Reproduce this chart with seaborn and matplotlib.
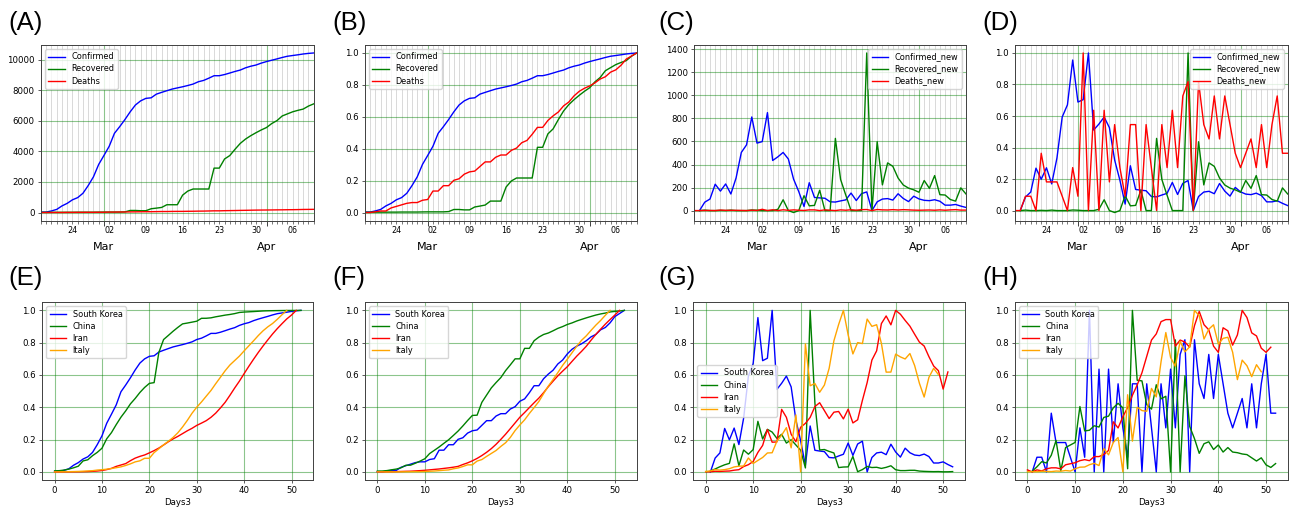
import numpy as np
import pandas as pd
import matplotlib
matplotlib.use("Agg")
import matplotlib.pyplot as plt
import matplotlib.dates as mdates
from matplotlib.ticker import FuncFormatter, MultipleLocator
import seaborn as sns

# ---------------------------------------------------------------- data
# South Korea cumulative counts, one value per day
korea_start, korea_end = "2020-02-18", "2020-04-10"
korea_confirmed = [31, 31, 104, 204, 433, 602, 833, 977, 1261, 1766, 2337, 3150,
                   3736, 4335, 5186, 5621, 6088, 6593, 7041, 7314, 7478, 7513,
                   7755, 7869, 7979, 8086, 8162, 8236, 8320, 8413, 8565, 8652,
                   8799, 8961, 8961, 9037, 9137, 9241, 9332, 9478, 9583, 9661, 9786,
                   9887, 9976, 10062, 10156, 10237, 10284, 10331, 10384, 10423, 10450]
korea_recovered = [12, 12, 16, 16, 16, 18, 18, 22, 22, 22, 22, 27,
                   30, 30, 30, 30, 41, 135, 135, 118, 118, 247,
                   288, 333, 510, 510, 510, 1137, 1407, 1540, 1540, 1540,
                   1540, 2909, 2909, 3507, 3730, 4144, 4528, 4811, 5033, 5228, 5408,
                   5567, 5828, 6021, 6325, 6463, 6598, 6694, 6776, 6973, 7117]
korea_deaths = [0, 0, 1, 2, 2, 6, 8, 10, 12, 13, 13, 16,
                17, 28, 28, 35, 35, 42, 44, 50, 53, 54,
                60, 66, 66, 72, 75, 75, 81, 84, 91, 94,
                102, 111, 111, 120, 126, 131, 139, 144, 152, 158, 162,
                165, 169, 174, 177, 183, 186, 192, 200, 204, 208]

# Cumulative counts per country, indexed by days since its own day 0 (Days3)
china_confirmed = [548, 643, 920, 1406, 2075, 2877, 5509, 6087, 8141, 9802,
                   11891, 16630, 19716, 23707, 27440, 30587, 34110, 36814, 39829, 42354,
                   44386, 44759, 59895, 66358, 68413, 70513, 72434, 74211, 74619, 75077,
                   75550, 77001, 77022, 77241, 77754, 78166, 78600, 78928, 79356, 79932,
                   80136, 80261, 80386, 80537, 80690, 80770, 80823, 80860, 80887, 80921,
                   80932, 80945, 80977]
china_deaths = [17, 18, 26, 42, 56, 82, 131, 133, 171, 213,
                259, 361, 425, 490, 562, 632, 717, 804, 904, 1011,
                1111, 1116, 1368, 1511, 1653, 1758, 1856, 1992, 2106, 2224,
                2224, 2430, 2430, 2580, 2651, 2703, 2732, 2776, 2823, 2858,
                2900, 2931, 2969, 3000, 3030, 3058, 3085, 3107, 3124, 3146,
                3157, 3164, 3177]
iran_confirmed = [2, 5, 18, 28, 43, 61, 95, 139, 245, 388,
                  593, 978, 1501, 2336, 2922, 3513, 4747, 5823, 6566, 7161,
                  8042, 9000, 10075, 11364, 12729, 13938, 14991, 16169, 17361, 18407,
                  19644, 20610, 21638, 23049, 24811, 27017, 29406, 32332, 35408, 38309,
                  41495, 44605, 47593, 50468, 53183, 55743, 58226, 60500, 62589, 64586,
                  66220, 68192]
iran_deaths = [2, 2, 4, 5, 8, 12, 16, 19, 26, 34,
               43, 54, 66, 77, 92, 107, 124, 145, 194, 237,
               291, 354, 429, 514, 611, 724, 853, 988, 1135, 1284,
               1433, 1556, 1685, 1812, 1934, 2077, 2234, 2378, 2517, 2640,
               2757, 2898, 3036, 3160, 3294, 3452, 3603, 3739, 3872, 3993,
               4110, 4232]
italy_confirmed = [20, 62, 155, 229, 322, 453, 655, 888, 1128, 1694,
                   2036, 2502, 3089, 3858, 4636, 5883, 7375, 9172, 10149, 12462,
                   12462, 17660, 21157, 24747, 27980, 31506, 35713, 41035, 47021, 53578,
                   59138, 63927, 69176, 74386, 80589, 86498, 92472, 97689, 101739, 105792,
                   110574, 115242, 119827, 124632, 128948, 132547, 135586, 139422, 143626, 147577]
italy_deaths = [1, 2, 3, 7, 10, 12, 17, 21, 29, 34,
                52, 79, 107, 148, 197, 233, 366, 463, 631, 827,
                827, 1266, 1441, 1809, 2158, 2503, 2978, 3405, 4032, 4825,
                5476, 6077, 6820, 7503, 8215, 9134, 10023, 10779, 11591, 12428,
                13155, 13915, 14681, 15362, 15887, 16523, 17127, 17669, 18279, 18849]

korea_series = ["Confirmed", "Recovered", "Deaths"]
korea_new_series = ["Confirmed_new", "Recovered_new", "Deaths_new"]
series_colors = ["blue", "green", "red"]
country_names = ["South Korea", "China", "Iran", "Italy"]
country_colors = ["blue", "green", "red", "orange"]
# Iran and Italy daily counts start from zero before day 0
country_diff_from_zero = [False, False, True, True]

# ---------------------------------------------------------------- style
W, H = 1290, 508
TICK_FS = 6.2
LEGEND_FS = 5.9
GRID_KW = dict(color="green", alpha=0.45, linewidth=0.8)

fig = plt.figure(figsize=(W / 100, H / 100), dpi=100)


def add_axes(l, t, r, b):
    return fig.add_axes([l / W, 1 - b / H, (r - l) / W, (b - t) / H])


def style_frame(ax):
    for sp in ax.spines.values():
        sp.set_linewidth(0.7)
        sp.set_color("0.25")
    ax.tick_params(axis="y", labelsize=TICK_FS, length=2.5, width=0.6, pad=2,
                   color="0.25")


def monday_label(x, pos=None):
    d = mdates.num2date(x)
    return d.strftime("%d") if d.weekday() == 0 else ""


def style_date_axis(ax, dates):
    ax.set_xlim(dates[0], dates[-1])
    ax.xaxis.set_major_locator(mdates.MonthLocator())
    ax.xaxis.set_major_formatter(mdates.DateFormatter("%b"))
    ax.xaxis.set_minor_locator(mdates.DayLocator())
    ax.xaxis.set_minor_formatter(FuncFormatter(monday_label))
    ax.tick_params(axis="x", which="minor", labelsize=5.8, length=2.0, width=0.5,
                   pad=2.0, color="0.25")
    ax.tick_params(axis="x", which="major", labelsize=8, length=3.5, width=0.7,
                   pad=12, color="0.25")
    ax.grid(True, which="minor", axis="x", color="0.55", alpha=0.45, linewidth=0.5)
    ax.grid(True, which="major", axis="both", **GRID_KW)
    ax.set_axisbelow(True)
    ax.set_xlabel("")
    ax.set_ylabel("")


def finish_legend(ax, loc):
    ax.legend(loc=loc, fontsize=LEGEND_FS, framealpha=0.8, edgecolor="0.8",
              borderpad=0.4, labelspacing=0.38, handlelength=2.0, handletextpad=0.8)


dates = pd.date_range(korea_start, korea_end, freq="D")
korea_cum = [np.asarray(korea_confirmed, float),
             np.asarray(korea_recovered, float),
             np.asarray(korea_deaths, float)]

# (A) cumulative counts
ax = add_axes(41, 45, 313.7, 220.5)
for name, vals, c in zip(korea_series, korea_cum, series_colors):
    sns.lineplot(x=dates, y=vals, color=c, label=name, linewidth=1.0, ax=ax)
style_date_axis(ax, dates)
ax.yaxis.set_major_locator(MultipleLocator(2000))
style_frame(ax)
finish_legend(ax, "upper left")

# (B) cumulative counts scaled by their maximum
ax = add_axes(365, 45, 636.7, 220.5)
for name, vals, c in zip(korea_series, korea_cum, series_colors):
    sns.lineplot(x=dates, y=vals / vals.max(), color=c, label=name, linewidth=1.0, ax=ax)
style_date_axis(ax, dates)
ax.yaxis.set_major_locator(MultipleLocator(0.2))
style_frame(ax)
finish_legend(ax, "upper left")

# daily increments; deaths start from zero the day before
korea_new = [np.diff(korea_cum[0]), np.diff(korea_cum[1]), np.diff(korea_cum[2], prepend=0)]
korea_new_x = [dates[1:], dates[1:], dates]

# (C) daily new counts
ax = add_axes(694.3, 45, 966, 220.5)
for name, x, vals, c in zip(korea_new_series, korea_new_x, korea_new, series_colors):
    sns.lineplot(x=x, y=vals, color=c, label=name, linewidth=1.0, ax=ax)
style_date_axis(ax, dates)
ax.yaxis.set_major_locator(MultipleLocator(200))
style_frame(ax)
finish_legend(ax, "upper right")

# (D) daily new counts scaled by their maximum
ax = add_axes(1015, 45, 1287.7, 220.5)
for name, x, vals, c in zip(korea_new_series, korea_new_x, korea_new, series_colors):
    sns.lineplot(x=x, y=vals / vals.max(), color=c, label=name, linewidth=1.0, ax=ax)
style_date_axis(ax, dates)
ax.yaxis.set_major_locator(MultipleLocator(0.2))
style_frame(ax)
finish_legend(ax, "upper right")

# ---------------------------------------------------------------- bottom row
confirmed_by_country = [korea_confirmed, china_confirmed, iran_confirmed, italy_confirmed]
deaths_by_country = [korea_deaths, china_deaths, iran_deaths, italy_deaths]


def style_days_axis(ax):
    ax.xaxis.set_major_locator(MultipleLocator(10))
    ax.yaxis.set_major_locator(MultipleLocator(0.2))
    ax.grid(True, which="major", **GRID_KW)
    ax.set_axisbelow(True)
    ax.tick_params(axis="x", labelsize=TICK_FS, length=2.5, width=0.6, pad=2,
                   color="0.25")
    ax.set_xlabel("Days3", fontsize=6.2, labelpad=2)
    ax.set_ylabel("")
    style_frame(ax)


def plot_cumulative(ax, table):
    for name, vals, c in zip(country_names, table, country_colors):
        v = np.asarray(vals, float)
        sns.lineplot(x=np.arange(len(v)), y=v / v.max(), color=c, label=name,
                     linewidth=1.0, ax=ax)


def plot_daily(ax, table):
    for name, vals, c, from_zero in zip(country_names, table, country_colors,
                                        country_diff_from_zero):
        v = np.asarray(vals, float)
        if from_zero:
            d = np.diff(v, prepend=0)
            x = np.arange(len(v))
        else:
            d = np.diff(v)
            x = np.arange(1, len(v))
        sns.lineplot(x=x, y=d / d.max(), color=c, label=name, linewidth=1.0, ax=ax)


# (E) cumulative confirmed, scaled
ax = add_axes(42.3, 302.3, 313.3, 480)
plot_cumulative(ax, confirmed_by_country)
style_days_axis(ax)
finish_legend(ax, "upper left")

# (F) cumulative deaths, scaled
ax = add_axes(365, 302.3, 636.7, 480)
plot_cumulative(ax, deaths_by_country)
style_days_axis(ax)
finish_legend(ax, "upper left")

# (G) daily new confirmed, scaled
ax = add_axes(693.3, 302.3, 965, 480)
plot_daily(ax, confirmed_by_country)
style_days_axis(ax)
finish_legend(ax, "center left")

# (H) daily new deaths, scaled
ax = add_axes(1015, 302.3, 1288, 480)
plot_daily(ax, deaths_by_country)
style_days_axis(ax)
finish_legend(ax, "upper left")

# panel letters
letters = [("(A)", 8, 11), ("(B)", 332, 11), ("(C)", 658, 11), ("(D)", 982, 11),
           ("(E)", 8, 266), ("(F)", 332, 266), ("(G)", 658, 266), ("(H)", 982, 266)]
for text, px, py in letters:
    fig.text(px / W, 1 - py / H, text, ha="left", va="top", fontsize=18.5,
             family=["Liberation Sans", "DejaVu Sans"])

fig.savefig("out.png", dpi=100)
